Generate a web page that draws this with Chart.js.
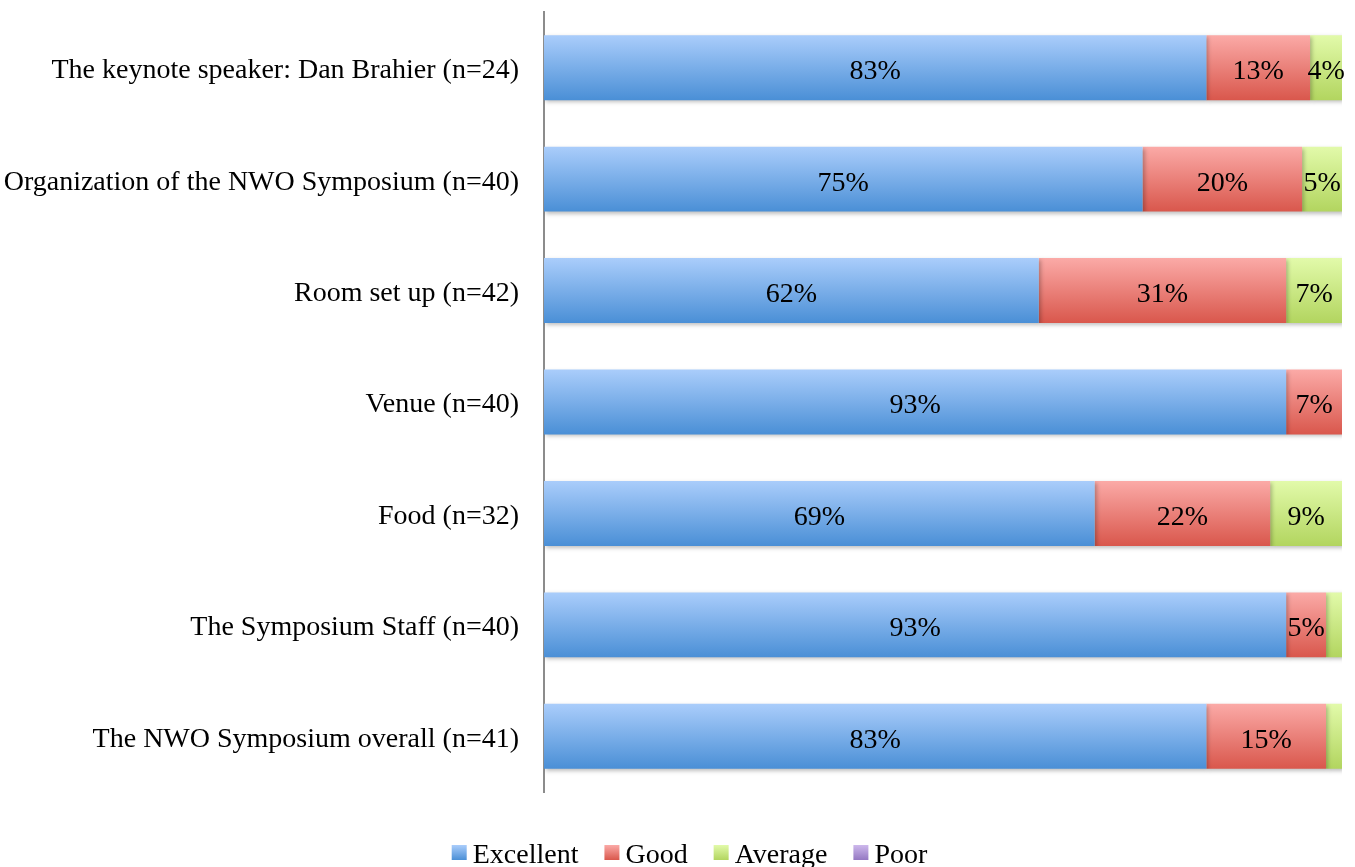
<!DOCTYPE html>
<html>
<head>
<meta charset="utf-8">
<script src="https://cdn.jsdelivr.net/npm/chart.js@4.4.0/dist/chart.umd.min.js"></script>
<style>
  html, body { margin: 0; padding: 0; background: #fff; }
  #wrap { width: 1355px; height: 867px; position: relative; }
</style>
</head>
<body>
<div id="wrap"><canvas id="chart"></canvas></div>
<script>
const categories = [
  "The keynote speaker: Dan Brahier (n=24)",
  "Organization of the NWO Symposium (n=40)",
  "Room set up (n=42)",
  "Venue (n=40)",
  "Food (n=32)",
  "The Symposium Staff (n=40)",
  "The NWO Symposium overall (n=41)"
];
const seriesNames = ["Excellent", "Good", "Average", "Poor"];
const excellent = [83, 75, 62, 93, 69, 93, 83];
const good      = [13, 20, 31, 7, 22, 5, 15];
const average   = [4, 5, 7, 0, 9, 2, 2];
const poor      = [0, 0, 0, 0, 0, 0, 0];

const FONT = "'Liberation Serif', 'Times New Roman', serif";
const FONT_SIZE = 28;
const BAR_PCT = 0.583;

// top / bottom colours of each gradient
const shades = {
  Excellent: ["#aacdfb", "#4a8fd6"],
  Good: ["#fbaaa7", "#d9574c"],
  Average: ["#e2faaa", "#b2d55f"],
  Poor: ["#cdb8ec", "#9478c2"]
};

function grad(c, name, y0, y1) {
  const g = c.createLinearGradient(0, y0, 0, y1);
  g.addColorStop(0, shades[name][0]);
  g.addColorStop(1, shades[name][1]);
  return g;
}

function barFill(name) {
  return (ctx) => {
    const chart = ctx.chart;
    const area = chart.chartArea;
    const y = chart.scales.y;
    if (!area || !y || ctx.type !== "data") return shades[name][1];
    const h = area.height / categories.length * BAR_PCT;
    const c = y.getPixelForValue(ctx.dataIndex);
    return grad(chart.ctx, name, c - h / 2, c + h / 2);
  };
}

function makeSet(name, data) {
  return {
    label: name,
    data,
    backgroundColor: barFill(name),
    borderWidth: 0,
    barPercentage: BAR_PCT,
    categoryPercentage: 1
  };
}

const shadowPlugin = {
  id: "shadow",
  beforeDatasetsDraw(chart) {
    const c = chart.ctx;
    c.save();
    c.shadowColor = "rgba(0,0,0,0.25)";
    c.shadowBlur = 4;
    c.shadowOffsetX = 2;
    c.shadowOffsetY = 2;
  },
  afterDatasetsDraw(chart) {
    chart.ctx.restore();
  }
};

const labelPlugin = {
  id: "barLabels",
  afterDatasetsDraw(chart) {
    const c = chart.ctx;
    c.save();
    c.font = FONT_SIZE + "px " + FONT;
    c.fillStyle = "#000";
    c.textAlign = "center";
    c.textBaseline = "middle";
    chart.data.datasets.forEach((ds, i) => {
      const meta = chart.getDatasetMeta(i);
      meta.data.forEach((bar, j) => {
        const v = ds.data[j];
        if (v < 4) return;
        const p = bar.getProps(["x", "y", "base"], true);
        c.fillText(v + "%", (p.x + p.base) / 2, p.y + 4);
      });
    });
    c.restore();
  }
};

// legend drawn by hand so spacing matches the original
const legendPlugin = {
  id: "bottomLegend",
  afterDraw(chart) {
    const c = chart.ctx;
    c.save();
    c.font = FONT_SIZE + "px " + FONT;
    const box = 15, gap = 6, itemGap = 26;
    const widths = seriesNames.map(n => box + gap + c.measureText(n).width);
    const total = widths.reduce((a, b) => a + b, 0) + itemGap * (seriesNames.length - 1);
    let x = chart.width / 2 + 12 - total / 2;
    const baseY = 863;
    c.textBaseline = "alphabetic";
    seriesNames.forEach((n, i) => {
      c.fillStyle = grad(c, n, baseY - 18, baseY - 3);
      c.fillRect(x, baseY - 18, box, box);
      c.fillStyle = "#000";
      c.fillText(n, x + box + gap, baseY);
      x += widths[i] + itemGap;
    });
    c.restore();
  }
};

new Chart(document.getElementById("chart"), {
  type: "bar",
  data: {
    labels: categories,
    datasets: [
      makeSet("Excellent", excellent),
      makeSet("Good", good),
      makeSet("Average", average),
      makeSet("Poor", poor)
    ]
  },
  options: {
    indexAxis: "y",
    responsive: true,
    maintainAspectRatio: false,
    animation: false,
    layout: { padding: { top: 12, right: 13, left: 0, bottom: 0 } },
    scales: {
      x: {
        stacked: true,
        min: 0,
        max: 100,
        grid: { display: false },
        border: { display: false },
        ticks: { display: false },
        afterFit: (s) => { s.height = 75; s.paddingLeft = 0; s.paddingRight = 0; }
      },
      y: {
        stacked: true,
        grid: { display: false },
        border: { display: true, color: "#8c8c8c", width: 2 },
        ticks: { color: "#000", padding: 17, labelOffset: 3, font: { family: FONT, size: FONT_SIZE } },
        afterFit: (s) => { s.width = 544; s.paddingTop = 0; s.paddingBottom = 0; }
      }
    },
    plugins: {
      tooltip: { enabled: false },
      legend: { display: false }
    }
  },
  plugins: [shadowPlugin, labelPlugin, legendPlugin]
});
</script>
</body>
</html>
